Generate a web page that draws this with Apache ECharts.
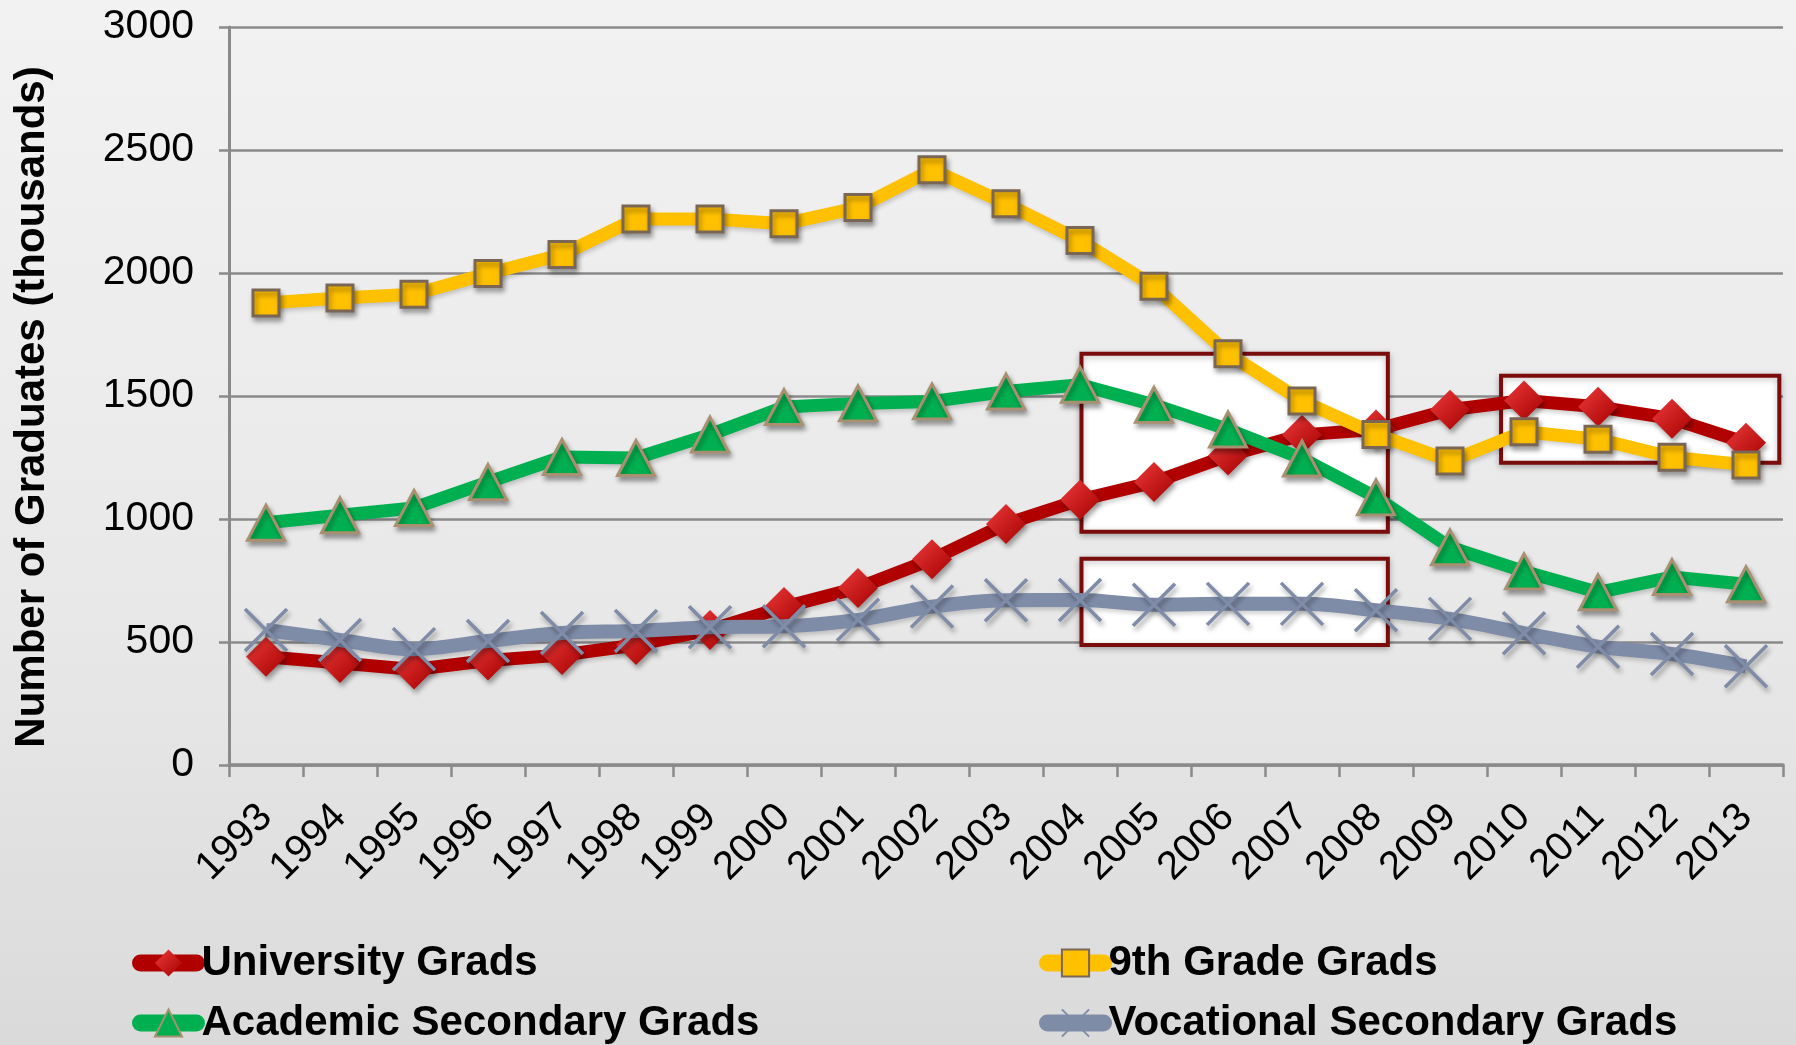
<!DOCTYPE html>
<html><head><meta charset="utf-8">
<script src="https://cdn.jsdelivr.net/npm/echarts@6/dist/echarts.min.js"></script>
<style>html,body{margin:0;padding:0;background:#e6e6e6;} #c{width:1796px;height:1045px;}</style>
</head><body><div id="c"></div>
<script>
// ---- data ----
const years = ['1993','1994','1995','1996','1997','1998','1999','2000','2001','2002','2003','2004','2005','2006','2007','2008','2009','2010','2011','2012','2013'];
const universityGrads = [440, 415, 388, 425, 447, 488, 549, 642, 720, 836, 980, 1078, 1150, 1258, 1342, 1364, 1444, 1482, 1456, 1408, 1310];
const ninthGradeGrads = [1878, 1898, 1914, 1998, 2075, 2220, 2220, 2200, 2266, 2420, 2282, 2132, 1946, 1672, 1480, 1344, 1236, 1355, 1324, 1251, 1220];
const academicSecondaryGrads = [985, 1015, 1045, 1150, 1252, 1248, 1343, 1455, 1470, 1478, 1518, 1546, 1464, 1364, 1246, 1088, 885, 787, 702, 764, 735];
const vocationalSecondaryGrads = [549, 508, 471, 504, 537, 545, 560, 564, 590, 644, 670, 671, 651, 655, 655, 629, 594, 536, 481, 451, 401];
const seriesNames = ['University Grads', '9th Grade Grads', 'Academic Secondary Grads', 'Vocational Secondary Grads'];
const yTicks = [0, 500, 1000, 1500, 2000, 2500, 3000];
const yAxisTitle = 'Number of Graduates (thousands)';
// highlight boxes in data units: [xFrom, yTop, xTo, yBottom] (x in category-band units 0..21)
const highlightBoxes = [
  [11.52, 1672, 15.66, 948],
  [11.52, 838, 15.66, 488],
  [17.19, 1582, 20.95, 1229]
];

const FONT = '"Liberation Sans", Arial, Helvetica, sans-serif';
const chart = echarts.init(document.getElementById('c'), null, {renderer: 'canvas'});
const markerShadow = {shadowBlur: 5, shadowOffsetX: 2, shadowOffsetY: 4, shadowColor: 'rgba(0,0,0,0.35)'};
const lineShadow = {shadowBlur: 4, shadowOffsetX: 1, shadowOffsetY: 3, shadowColor: 'rgba(0,0,0,0.18)'};

function legendAt(name, left, top) {
  return {left: left, top: top, padding: 0, orient: 'horizontal', itemWidth: 56, itemHeight: 34,
    data: [name], lineStyle: {width: 17, cap: 'round'},
    textStyle: {fontSize: 42, fontWeight: 'bold', color: '#000', fontFamily: FONT, lineHeight: 34}};
}

const option = {
  backgroundColor: {type: 'linear', x: 0, y: 0, x2: 0, y2: 1,
    colorStops: [{offset: 0, color: '#f2f2f2'}, {offset: 0.6, color: '#e8e8e8'}, {offset: 1, color: '#dadada'}]},
  animation: false,
  textStyle: {fontFamily: FONT},
  grid: {left: 229, right: 13, top: 27, bottom: 280, containLabel: false},
  legend: [
    legendAt(seriesNames[0], 132, 942),
    legendAt(seriesNames[1], 1039, 942),
    legendAt(seriesNames[2], 132, 1002),
    legendAt(seriesNames[3], 1039, 1002)
  ],
  xAxis: [
    {type: 'category', data: years, boundaryGap: true,
     axisLine: {lineStyle: {color: '#8a8a8a', width: 3.5}},
     axisTick: {show: true, length: 12, lineStyle: {color: '#8a8a8a', width: 2.5}},
     axisLabel: {interval: 0, hideOverlap: false, rotate: 45, margin: 46, fontSize: 40, color: '#000', fontFamily: FONT},
     splitLine: {show: false}},
    {type: 'value', min: 0, max: 21, show: false}
  ],
  yAxis: {type: 'value', min: yTicks[0], max: yTicks[yTicks.length - 1], interval: 500,
    name: yAxisTitle, nameLocation: 'middle', nameRotate: 90, nameGap: 176,
    nameTextStyle: {fontSize: 42, fontWeight: 'bold', color: '#000', fontFamily: FONT, padding: [0, 22, 0, 0]},
    axisLine: {show: true, lineStyle: {color: '#8a8a8a', width: 3}},
    axisTick: {show: true, length: 10, lineStyle: {color: '#8a8a8a', width: 2.5}},
    axisLabel: {margin: 35, fontSize: 41, color: '#000', fontFamily: FONT, formatter: v => String(v)},
    splitLine: {show: true, lineStyle: {color: '#8a8a8a', width: 2.5}}
  },
  series: [
    {type: 'line', xAxisIndex: 1, data: [], silent: true, z: 1, symbol: 'none',
     markArea: {silent: true, z: 1,
       itemStyle: {color: '#ffffff', opacity: 1, borderColor: '#7a0c0c', borderWidth: 4,
                   shadowBlur: 6, shadowOffsetY: 2, shadowColor: 'rgba(0,0,0,0.25)'},
       data: highlightBoxes.map(b => [{coord: [b[0], b[1]]}, {coord: [b[2], b[3]]}])}},
    {name: seriesNames[0], type: 'line', data: universityGrads, z: 3,
     symbol: 'diamond', symbolSize: 40,
     lineStyle: Object.assign({color: '#b00000', width: 13}, lineShadow),
     itemStyle: Object.assign({color: {type: 'linear', x: 0, y: 0, x2: 1, y2: 1,
        colorStops: [{offset: 0, color: '#ec3a3a'}, {offset: 1, color: '#a50000'}]}, borderWidth: 0}, markerShadow)},
    {name: seriesNames[1], type: 'line', data: ninthGradeGrads, z: 4,
     symbol: 'rect', symbolSize: 26,
     lineStyle: Object.assign({color: '#ffc000', width: 13}, lineShadow),
     itemStyle: Object.assign({color: '#ffc000', borderColor: '#7a6654', borderWidth: 3}, markerShadow)},
    {name: seriesNames[2], type: 'line', data: academicSecondaryGrads, z: 5,
     symbol: 'triangle', symbolSize: [37, 35],
     lineStyle: Object.assign({color: '#00b050', width: 13}, lineShadow),
     itemStyle: Object.assign({color: '#00b050', borderColor: '#a89070', borderWidth: 3}, markerShadow)},
    {name: seriesNames[3], type: 'line', data: vocationalSecondaryGrads, z: 6, smooth: 0.35,
     symbol: 'path://M0,0L10,10M10,0L0,10', symbolSize: 42,
     lineStyle: Object.assign({color: '#7f8ca8', width: 14}, lineShadow),
     itemStyle: Object.assign({color: '#7f8ca8', borderColor: '#7f8ca8', borderWidth: 3.5}, markerShadow)}
  ]
};
chart.setOption(option);
</script>
</body></html>
